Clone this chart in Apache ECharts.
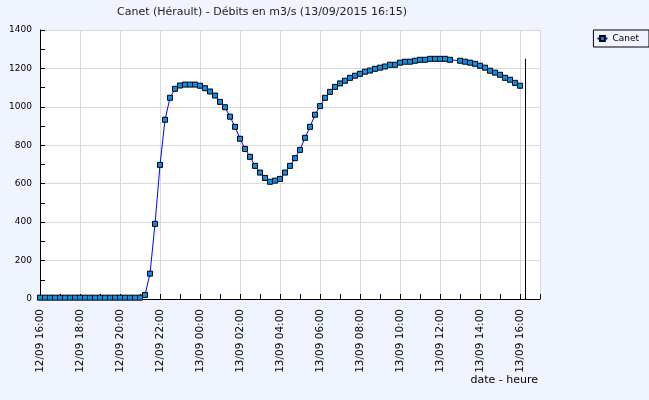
<!DOCTYPE html>
<html><head><meta charset="utf-8">
<script src="https://cdn.jsdelivr.net/npm/echarts@6/dist/echarts.min.js"></script>
<style>html,body{margin:0;padding:0;background:#f0f4ff}#c{width:649px;height:400px}</style>
</head><body><div id="c"></div>
<script>
const titleText = 'Canet (Hérault) - Débits en m3/s (13/09/2015 16:15)';
const seriesName = 'Canet';
const xAxisName = 'date - heure';
const startTime = '12/09 16:00';
const endTime = '13/09 17:00';
const nowTime = '13/09 16:15';
const yMin = 0, yMax = 1400, yStep = 200, yMinorStep = 100;
const xStepHours = 2, xMinorStepHours = 1;

const times = [
 '12/09 16:00','12/09 16:15','12/09 16:30','12/09 16:45',
 '12/09 17:00','12/09 17:15','12/09 17:30','12/09 17:45',
 '12/09 18:00','12/09 18:15','12/09 18:30','12/09 18:45',
 '12/09 19:00','12/09 19:15','12/09 19:30','12/09 19:45',
 '12/09 20:00','12/09 20:15','12/09 20:30','12/09 20:45',
 '12/09 21:00','12/09 21:15','12/09 21:30','12/09 21:45',
 '12/09 22:00','12/09 22:15','12/09 22:30','12/09 22:45',
 '12/09 23:00','12/09 23:15','12/09 23:30','12/09 23:45',
 '13/09 00:00','13/09 00:15','13/09 00:30','13/09 00:45',
 '13/09 01:00','13/09 01:15','13/09 01:30','13/09 01:45',
 '13/09 02:00','13/09 02:15','13/09 02:30','13/09 02:45',
 '13/09 03:00','13/09 03:15','13/09 03:30','13/09 03:45',
 '13/09 04:00','13/09 04:15','13/09 04:30','13/09 04:45',
 '13/09 05:00','13/09 05:15','13/09 05:30','13/09 05:45',
 '13/09 06:00','13/09 06:15','13/09 06:30','13/09 06:45',
 '13/09 07:00','13/09 07:15','13/09 07:30','13/09 07:45',
 '13/09 08:00','13/09 08:15','13/09 08:30','13/09 08:45',
 '13/09 09:00','13/09 09:15','13/09 09:30','13/09 09:45',
 '13/09 10:00','13/09 10:15','13/09 10:30','13/09 10:45',
 '13/09 11:00','13/09 11:15','13/09 11:30','13/09 11:45',
 '13/09 12:00','13/09 12:15','13/09 12:30',
 '13/09 13:00','13/09 13:15','13/09 13:30','13/09 13:45',
 '13/09 14:00','13/09 14:15','13/09 14:30','13/09 14:45',
 '13/09 15:00','13/09 15:15','13/09 15:30','13/09 15:45',
 '13/09 16:00'
];
const flows = [
 7,7,7,7, 7,7,7,7, 7,7,7,7, 7,7,7,7, 7,7,7,7,
 7,21,132,391, 698,933,1047,1094, 1111,1116,1116,1116,
 1110,1097,1080,1059, 1026,998,949,896,
 834,781,740,693, 658,630,610,616,
 625,658,693,733, 776,839,896,959,
 1004,1047,1078,1104, 1122,1136,1151,1162,
 1172,1183,1189,1198, 1204,1210,1219,1219,
 1230,1235,1235,1240, 1245,1245,1250,1250,
 1250,1250,1245,
 1240,1235,1230,1224, 1214,1204,1188,1178,
 1167,1151,1141,1125, 1110
];

function absHours(s){
  const [d,t] = s.split(' ');
  const day = +d.split('/')[0];
  const [hh,mm] = t.split(':').map(Number);
  return day*24 + hh + mm/60;
}
const t0 = absHours(startTime);
const month = startTime.split(' ')[0].split('/')[1];
const toX = s => absHours(s) - t0;
const pad = n => String(n).padStart(2,'0');
const data = times.map((t,i) => [toX(t), flows[i]]);
const nowX = toX(nowTime);
const xEnd = toX(endTime);
const peak = Math.max(...flows);

const FONT = 'DejaVu Sans';
const tickOnlyAxis = {
  axisLine: {show: false}, axisLabel: {show: false}, splitLine: {show: false},
  axisTick: {show: true, inside: true, length: 5, lineStyle: {color: '#000'}}
};

const chart = echarts.init(document.getElementById('c'), null, {renderer:'canvas'});
chart.setOption({
  backgroundColor: '#f0f4ff',
  animation: false,
  title: [
    {text: titleText, left: 117, top: 7, padding: 0,
     textStyle: {fontFamily: FONT, fontSize: 11, fontWeight: 'normal', color: '#222'}},
    {text: xAxisName, right: 111, top: 375, padding: 0,
     textStyle: {fontFamily: FONT, fontSize: 11, fontWeight: 'normal', color: '#000'}}
  ],
  legend: {
    data: [seriesName], right: 0, top: 30, orient: 'vertical',
    borderColor: '#000', borderWidth: 1, borderRadius: 0,
    padding: [4, 10, 4, 3], itemWidth: 10, itemHeight: 6,
    textStyle: {fontFamily: FONT, fontSize: 9, color: '#000'}
  },
  grid: {left: 40, right: 109, top: 30, bottom: 101, show: true,
         backgroundColor: '#fff', borderWidth: 0, containLabel: false},
  xAxis: [{
    type: 'value', position: 'bottom', min: 0, max: xEnd, interval: xStepHours,
    axisLine: {lineStyle: {color: '#000', width: 1}},
    axisTick: {inside: true, length: 5, lineStyle: {color: '#000'}},
    splitLine: {show: true, lineStyle: {color: '#d9d9d9', width: 1}},
    axisLabel: {
      rotate: 90, margin: 10, fontSize: 10.5, fontFamily: FONT, color: '#000',
      showMaxLabel: false,
      formatter: v => {
        if (v > xEnd - 0.5) return '';
        const a = t0 + v;
        const day = Math.floor(a/24);
        const hh = Math.round(a - day*24);
        return pad(day) + '/' + month + ' ' + pad(hh) + ':00';
      }
    }
  }, Object.assign({type: 'value', position: 'bottom', min: 0, max: xEnd, interval: xMinorStepHours}, tickOnlyAxis)],
  yAxis: [{
    type: 'value', position: 'left', min: yMin, max: yMax, interval: yStep,
    axisLine: {show: true, lineStyle: {color: '#000', width: 1}},
    axisTick: {show: true, inside: true, length: 5, lineStyle: {color: '#000'}},
    splitLine: {show: true, lineStyle: {color: '#d9d9d9', width: 1}},
    axisLabel: {margin: 8, fontSize: 9, fontFamily: FONT, color: '#000', formatter: v => String(v)}
  }, Object.assign({type: 'value', position: 'left', min: yMin, max: yMax, interval: yMinorStep}, tickOnlyAxis)],
  series: [{
    name: seriesName, type: 'line', data: data, xAxisIndex: 0, yAxisIndex: 0,
    symbol: 'rect', symbolSize: 5, showAllSymbol: true,
    itemStyle: {color: '#0a8ee8', borderColor: '#000', borderWidth: 1},
    lineStyle: {color: '#0000ff', width: 1},
    markLine: {
      silent: true, symbol: ['none','none'], label: {show: false},
      lineStyle: {color: '#000', width: 1, type: 'solid'},
      data: [[{coord: [nowX, yMin]}, {coord: [nowX, peak]}]]
    }
  }]
});
</script></body></html>
